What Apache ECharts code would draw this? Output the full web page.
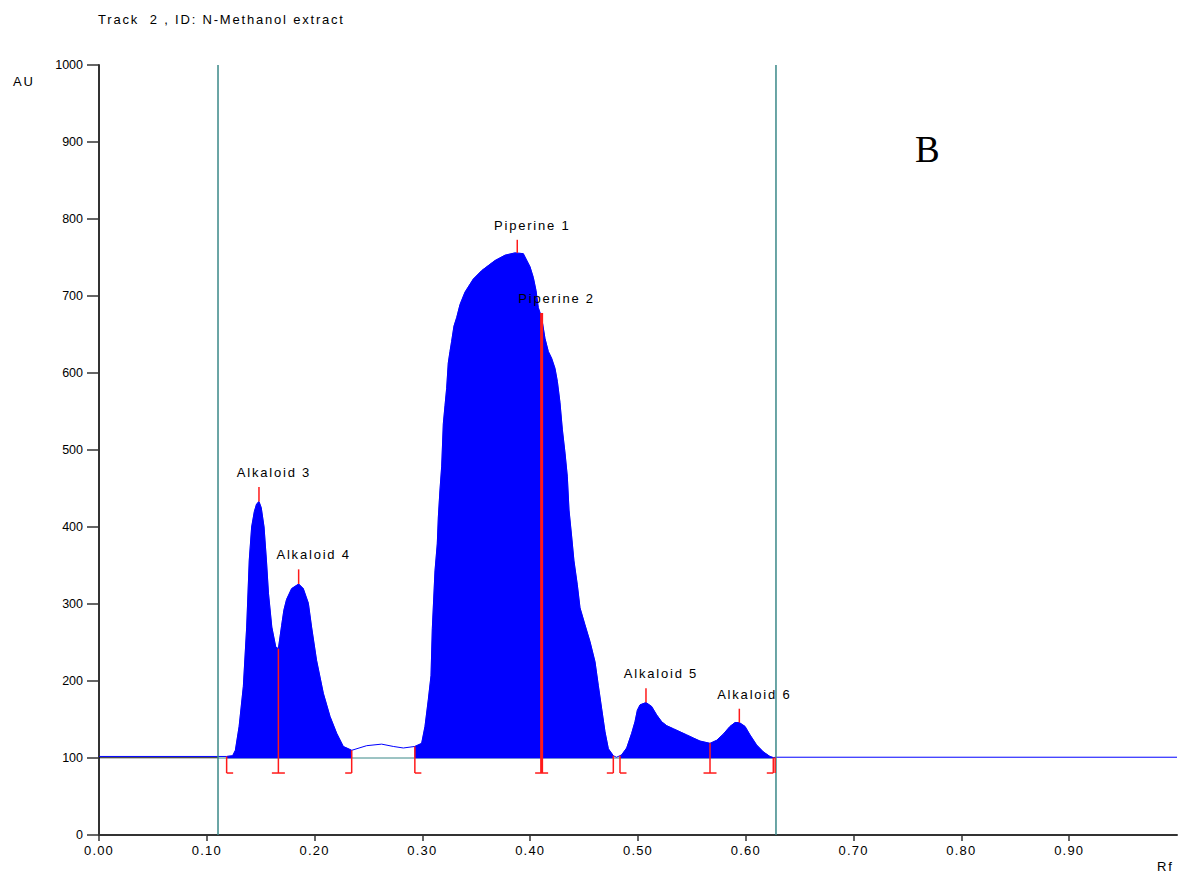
<!DOCTYPE html>
<html><head><meta charset="utf-8">
<script src="https://cdn.jsdelivr.net/npm/echarts@6/dist/echarts.min.js"></script>
<style>
html,body{margin:0;padding:0;background:#fff;}
#chart{width:1180px;height:875px;}
svg text{white-space:pre;}
svg text[style*="spA"]{letter-spacing:1.8px;}
svg text[style*="spB"]{letter-spacing:1.2px;}
</style></head><body><div id="chart"></div>
<script>
// ---- text ----
const titleText = 'Track  2 , ID: N-Methanol extract';
const panelLetter = 'B';
const yName = 'AU';
const xName = 'Rf';
// ---- axes ----
const xTicks = [0, 0.1, 0.2, 0.3, 0.4, 0.5, 0.6, 0.7, 0.8, 0.9];
const xRange = [0, 1];
const yRange = [0, 1000];
const yStep = 100;
// ---- track / baseline ----
const trackBounds = [0.1104, 0.628];
const baselineAU = 100;
const preTrackBase = 100.3;
const markBottomAU = 80.5;
// ---- densitogram signal [Rf, AU] ----
const signal = [
  [0, 102], [0.1104, 102], [0.1184, 102], [0.124, 103], [0.1265, 110], [0.130, 141],
  [0.1339, 193], [0.137, 270], [0.1394, 357], [0.1416, 400], [0.1441, 420], [0.1462, 430],
  [0.1484, 433], [0.1505, 425], [0.1531, 400], [0.1553, 357], [0.1572, 314], [0.1603, 270],
  [0.164, 244], [0.1664, 242],
  [0.1694, 272], [0.1715, 292], [0.174, 306], [0.1787, 320], [0.1852, 326], [0.1895, 320], [0.1942, 301],
  [0.1972, 270], [0.2018, 227], [0.2081, 184], [0.2143, 154], [0.2205, 132], [0.2266, 115],
  [0.2344, 110],
  [0.2483, 116], [0.2622, 118], [0.273, 115], [0.2823, 113], [0.293, 115],
  [0.2993, 119], [0.3024, 141], [0.3055, 176], [0.308, 207], [0.3092, 268], [0.3117, 343],
  [0.3138, 378], [0.3148, 413], [0.3163, 448], [0.3179, 479], [0.3194, 534], [0.321, 558],
  [0.3225, 580], [0.324, 613], [0.3256, 628], [0.3271, 641], [0.3293, 661], [0.3318, 672],
  [0.3349, 689], [0.3395, 705], [0.3472, 722], [0.355, 733], [0.3673, 746], [0.3766, 753],
  [0.3859, 756], [0.3936, 755], [0.3998, 738], [0.4029, 724], [0.4054, 707], [0.4075, 685],
  [0.4106, 672], [0.4137, 645], [0.4168, 628], [0.4199, 619], [0.423, 606], [0.4252, 589],
  [0.4276, 562], [0.4298, 527], [0.4323, 496], [0.4344, 466], [0.436, 422], [0.4385, 387],
  [0.4406, 356], [0.4437, 325], [0.4462, 295], [0.4508, 273], [0.4555, 251], [0.4601, 225],
  [0.4632, 194], [0.4663, 164], [0.4694, 134], [0.4725, 112], [0.4771, 103], [0.48, 101],
  [0.4833, 103],
  [0.4848, 104], [0.4895, 113], [0.4941, 132], [0.4972, 147], [0.4994, 162], [0.5019, 169],
  [0.5074, 172], [0.5126, 167], [0.5173, 156], [0.522, 147], [0.5266, 142], [0.5328, 138],
  [0.539, 134], [0.5452, 130], [0.5513, 126], [0.5575, 122], [0.5668, 119], [0.573, 123],
  [0.5791, 131], [0.5853, 141], [0.59, 146], [0.594, 146], [0.5993, 141], [0.6039, 130],
  [0.61, 117], [0.6162, 108], [0.6224, 102], [0.6255, 100.5], [0.628, 101], [1.0, 101]
];
// ---- integrated (filled) regions [startRf, endRf] ----
const fillRegions = [[0.1184, 0.2344], [0.293, 0.4771], [0.4833, 0.6255]];
// ---- peak boundary markers ----
const boundaryRf   = [0.1184, 0.1664, 0.2344, 0.293, 0.4106, 0.4771, 0.4833, 0.5668, 0.6255, 0.6272];
const boundaryTop  = [102, 242, 110, 115, 678, 103, 103, 119, 100.5, 100.5];
const boundaryKind = ['start', 'split', 'end', 'start', 'split', 'end', 'start', 'split', 'end', 'none'];
// ---- peak labels ----
const peakNames = ['Alkaloid 3', 'Alkaloid 4', 'Piperine 1', 'Piperine 2', 'Alkaloid 5', 'Alkaloid 6'];
const peakRf    = [0.1484, 0.1852, 0.388, 0.4106, 0.5074, 0.594];
const peakTop   = [433, 326, 756, 678, 172, 146];
const peakTip   = [452, 345, 773, 678, 190.5, 164];

const RED = '#ff1a1a';
const BLUE = '#0000ff';
const TEAL = '#3a8888';
const AXIS = '#333333';
const LABEL_FONT = "13px 'Liberation Sans', spA";

const chart = echarts.init(document.getElementById('chart'), null, { renderer: 'svg' });

function fillItem(params, api) {
  const r = fillRegions[params.dataIndex];
  const pts = signal.filter(p => p[0] >= r[0] - 1e-9 && p[0] <= r[1] + 1e-9).map(p => api.coord(p));
  pts.push(api.coord([r[1], baselineAU]));
  pts.push(api.coord([r[0], baselineAU]));
  return { type: 'polygon', shape: { points: pts }, style: { fill: BLUE, stroke: BLUE, lineWidth: 0.6 } };
}

function boundaryItem(params, api) {
  const i = params.dataIndex;
  const rf = boundaryRf[i];
  const top = api.coord([rf, boundaryTop[i]]);
  const bot = api.coord([rf, markBottomAU]);
  const thick = peakRf.some(v => Math.abs(v - rf) < 1e-6);
  const w = thick ? 3 : 1.5;
  const children = [{ type: 'line', shape: { x1: top[0], y1: top[1], x2: bot[0], y2: bot[1] }, style: { stroke: RED, lineWidth: w } }];
  const k = boundaryKind[i];
  const f = 6.5;
  let x1 = null, x2 = null;
  if (k === 'start') { x1 = bot[0]; x2 = bot[0] + f; }
  else if (k === 'end') { x1 = bot[0] - f; x2 = bot[0]; }
  else if (k === 'split') { x1 = bot[0] - f; x2 = bot[0] + f; }
  if (x1 !== null) children.push({ type: 'line', shape: { x1: x1, y1: bot[1], x2: x2, y2: bot[1] }, style: { stroke: RED, lineWidth: 1.5 } });
  return { type: 'group', children: children };
}

function peakItem(params, api) {
  const i = params.dataIndex;
  const a = api.coord([peakRf[i], peakTop[i]]);
  const b = api.coord([peakRf[i], peakTip[i]]);
  return { type: 'group', children: [
    { type: 'line', shape: { x1: a[0], y1: a[1], x2: b[0], y2: b[1] }, style: { stroke: RED, lineWidth: 1.5 } },
    { type: 'text', style: { text: peakNames[i], x: b[0] + 15, y: b[1] - 8, align: 'center', verticalAlign: 'bottom', font: LABEL_FONT, fill: '#000' } }
  ] };
}

const option = {
  animation: false,
  backgroundColor: '#fff',
  grid: { left: 99, top: 65, right: 3, bottom: 40, containLabel: false },
  xAxis: {
    type: 'value', min: xRange[0], max: xRange[1],
    axisLine: { onZero: false, lineStyle: { color: AXIS, width: 2 } },
    axisTick: { show: true, inside: false, length: 6, customValues: xTicks, lineStyle: { color: AXIS, width: 1.5 } },
    axisLabel: { customValues: xTicks, margin: 9, formatter: v => v.toFixed(2), color: '#000', fontFamily: "'Liberation Sans', spB", fontSize: 13 },
    splitLine: { show: false }
  },
  yAxis: {
    type: 'value', min: yRange[0], max: yRange[1], interval: yStep,
    axisLine: { show: true, lineStyle: { color: AXIS, width: 2 } },
    axisTick: { show: true, inside: false, length: 12, lineStyle: { color: AXIS, width: 1.5 } },
    axisLabel: { margin: 16, formatter: v => String(v), color: '#000', fontFamily: "'Liberation Sans'", fontSize: 12.5 },
    splitLine: { show: false }
  },
  graphic: [
    { type: 'text', left: 98, top: 13, style: { text: titleText, font: LABEL_FONT, fill: '#000' } },
    { type: 'text', left: 13, top: 75, style: { text: yName, font: LABEL_FONT, fill: '#000' } },
    { type: 'text', left: 1157, top: 860, style: { text: xName, font: LABEL_FONT, fill: '#000' } },
    { type: 'text', left: 915, top: 131, style: { text: panelLetter, font: "37px 'Liberation Serif'", fill: '#000' } }
  ],
  series: [
    { type: 'line', z: 1, silent: true, showSymbol: false, data: [[trackBounds[0], baselineAU], [trackBounds[1], baselineAU]], lineStyle: { color: TEAL, width: 1 } },
    { type: 'line', z: 2, silent: true, showSymbol: false, data: [[xRange[0], preTrackBase], [trackBounds[0], preTrackBase]], lineStyle: { color: '#111', width: 1.2 } },
    { type: 'custom', z: 3, silent: true, data: fillRegions.map(r => [r[0], baselineAU]), renderItem: fillItem },
    { type: 'line', z: 4, silent: true, showSymbol: false, data: signal, lineStyle: { color: BLUE, width: 1 } },
    { type: 'line', z: 5, silent: true, showSymbol: false, data: [[trackBounds[0], yRange[0]], [trackBounds[0], yRange[1]]], lineStyle: { color: TEAL, width: 1.5 } },
    { type: 'line', z: 5, silent: true, showSymbol: false, data: [[trackBounds[1], yRange[0]], [trackBounds[1], yRange[1]]], lineStyle: { color: TEAL, width: 1.5 } },
    { type: 'custom', z: 6, silent: true, data: boundaryRf.map((v, i) => [v, boundaryTop[i]]), renderItem: boundaryItem },
    { type: 'custom', z: 7, silent: true, data: peakRf.map((v, i) => [v, peakTop[i]]), renderItem: peakItem }
  ]
};
chart.setOption(option);
</script></body></html>
